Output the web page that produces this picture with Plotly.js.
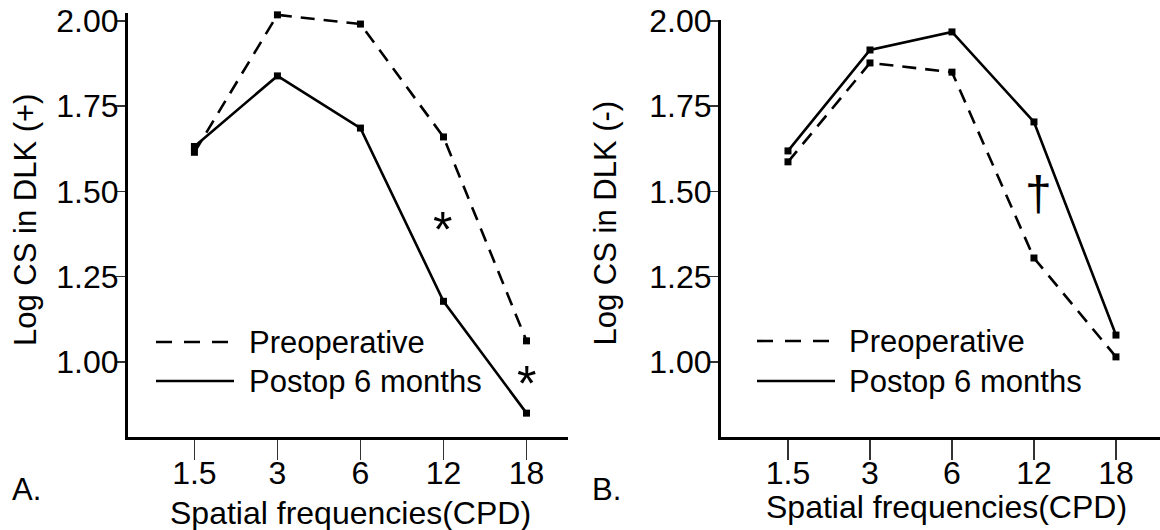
<!DOCTYPE html>
<html>
<head>
<meta charset="utf-8">
<script src="https://cdn.plot.ly/plotly-3.0.1.min.js"></script>
<style>html,body{margin:0;padding:0;background:#fff;}#chart{width:1160px;height:530px;}</style>
</head>
<body>
<div id="chart"></div>
<script>
// ---- data ----
const freqs = ['1.5', '3', '6', '12', '18'];
const dlkPlusPreop = [1.615, 2.018, 1.991, 1.66, 1.062];
const dlkPlusPostop = [1.632, 1.839, 1.686, 1.178, 0.85];
const dlkMinusPreop = [1.587, 1.877, 1.850, 1.305, 1.015];
const dlkMinusPostop = [1.619, 1.915, 1.968, 1.704, 1.079];
const seriesNames = ['Preoperative', 'Postop 6 months'];
const yTicks = [1.00, 1.25, 1.50, 1.75, 2.00];
const yTickText = ['1.00', '1.25', '1.50', '1.75', '2.00'];

// ---- helpers (pixel -> paper) ----
const W = 1160, H = 530;
const px = x => x / W;
const py = y => 1 - y / H;
const FONT = 'Liberation Sans, Arial, sans-serif';

function trace(y, dashed, xa, ya, name) {
  return {
    x: freqs, y: y, xaxis: xa, yaxis: ya, name: name,
    type: 'scatter', mode: 'lines+markers', cliponaxis: false,
    line: {color: '#000', width: 2.6, dash: dashed ? '14px,9px' : 'solid'},
    marker: {symbol: 'square', size: 7, color: '#000'},
    showlegend: false, hoverinfo: 'x+y+name'
  };
}

const data = [
  trace(dlkPlusPreop, true, 'x', 'y', seriesNames[0]),
  trace(dlkPlusPostop, false, 'x', 'y', seriesNames[1]),
  trace(dlkMinusPreop, true, 'x2', 'y2', seriesNames[0]),
  trace(dlkMinusPostop, false, 'x2', 'y2', seriesNames[1])
];

function xAxis(domain, range, anchor) {
  return {
    domain: domain, range: range, anchor: anchor, type: 'category',
    showline: true, linewidth: 3, linecolor: '#000',
    ticks: 'outside', ticklen: 20, tickwidth: 1.5, tickcolor: '#333',
    ticklabelstandoff: -14,
    tickfont: {family: FONT, size: 32, color: '#000'},
    showgrid: false, zeroline: false, fixedrange: true
  };
}
function yAxis(domain, range, anchor) {
  return {
    domain: domain, range: range, anchor: anchor,
    tickvals: yTicks, ticktext: yTickText,
    showline: true, linewidth: 3, linecolor: '#000',
    ticks: 'outside', ticklen: 10, tickwidth: 1.5, tickcolor: '#333',
    ticklabelstandoff: -10,
    tickfont: {family: FONT, size: 32, color: '#000'},
    showgrid: false, zeroline: false, fixedrange: true
  };
}

// y scale: 1.00 at y=362px, 341 px per unit, x-axis at y=437
const yBottomPx = 437, y1px = 362, pxPerUnit = 341;
const yMin = 1 - (yBottomPx - y1px) / pxPerUnit;
const leftTop = 2.022, rightTop = 2.004;
const topPx = v => y1px - (v - 1) * pxPerUnit;

const shapes = [];
const annotations = [];
function legend(x0, x1, textX, yDash, ySolid) {
  shapes.push({type: 'line', xref: 'paper', yref: 'paper', x0: px(x0), x1: px(x1), y0: py(yDash), y1: py(yDash),
    line: {color: '#000', width: 2.6, dash: '16px,12px'}});
  shapes.push({type: 'line', xref: 'paper', yref: 'paper', x0: px(x0), x1: px(x1), y0: py(ySolid), y1: py(ySolid),
    line: {color: '#000', width: 2.6}});
  annotations.push({xref: 'paper', yref: 'paper', x: px(textX), y: py(yDash), xanchor: 'left', yanchor: 'middle',
    text: seriesNames[0], showarrow: false, font: {family: FONT, size: 31, color: '#000'}});
  annotations.push({xref: 'paper', yref: 'paper', x: px(textX), y: py(ySolid), xanchor: 'left', yanchor: 'middle',
    text: seriesNames[1], showarrow: false, font: {family: FONT, size: 31, color: '#000'}});
}
legend(156, 234, 247, 342, 381);
legend(757, 835, 847, 341, 381);

function txt(t, x, y, size, opts) {
  annotations.push(Object.assign({xref: 'paper', yref: 'paper', x: px(x), y: py(y), text: t, showarrow: false,
    xanchor: 'center', yanchor: 'middle', font: {family: FONT, size: size, color: '#000'}}, opts || {}));
}
txt('Spatial frequencies(CPD)', 350, 513, 32);
txt('Spatial frequencies(CPD)', 946, 507, 32);
txt('Log CS in DLK (+)', 25, 348, 31, {textangle: -90, yanchor: 'bottom'});
txt('Log CS in DLK (-)', 605, 348, 31, {textangle: -90, yanchor: 'bottom'});
txt('A.', 26, 489, 31);
txt('B.', 606, 489, 31);
txt('*', 442, 230, 50);
txt('*', 526, 384, 50);
txt('†', 1038, 194, 48);

const layout = {
  width: W, height: H,
  margin: {l: 0, r: 0, t: 0, b: 0},
  paper_bgcolor: '#fff', plot_bgcolor: '#fff',
  showlegend: false,
  xaxis: xAxis([px(128), px(568)], [-0.8, 4.5], 'y'),
  yaxis: yAxis([py(yBottomPx), py(topPx(leftTop))], [yMin, leftTop], 'x'),
  xaxis2: xAxis([px(721), 1], [-0.817, 4.537], 'y2'),
  yaxis2: yAxis([py(yBottomPx), py(topPx(rightTop))], [yMin, rightTop], 'x2'),
  shapes: shapes,
  annotations: annotations
};

Plotly.newPlot('chart', data, layout, {staticPlot: true, displayModeBar: false});
</script>
</body>
</html>
